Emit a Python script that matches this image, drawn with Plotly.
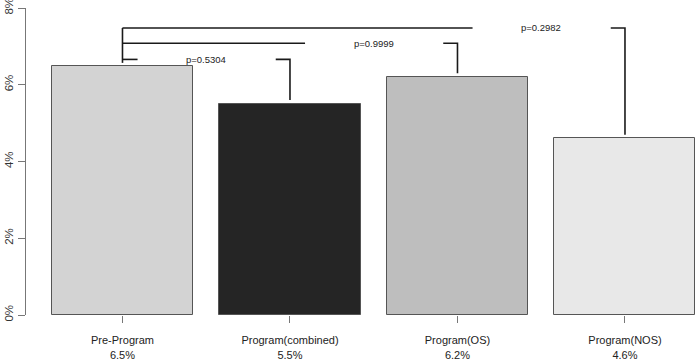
import plotly.graph_objects as go

categories = ["Pre-Program", "Program(combined)", "Program(OS)", "Program(NOS)"]
values = [6.5, 5.5, 6.2, 4.6]
bar_colors = ["#d3d3d3", "#252525", "#bebebe", "#e8e8e8"]
y_ticks = [0, 2, 4, 6, 8]
y_tick_labels = ["0%", "2%", "4%", "6%", "8%"]
p_labels = ["p=0.5304", "p=0.9999", "p=0.2982"]
bracket_heights = [6.66, 7.08, 7.48]
bracket_targets = [1, 2, 3]

FONT = "Liberation Sans, Arial, sans-serif"

fig = go.Figure()
fig.add_trace(go.Bar(
    x=list(range(len(categories))), y=values, width=0.842,
    marker=dict(color=bar_colors, line=dict(color="#555555", width=1)),
    showlegend=False, hoverinfo="skip",
))

line_style = dict(color="#1a1a1a", width=1.6)
# left common vertical
fig.add_trace(go.Scatter(x=[0, 0], y=[max(bracket_heights), values[0] + 0.07],
                         mode="lines", line=line_style, showlegend=False, hoverinfo="skip"))
for h, k, lab in zip(bracket_heights, bracket_targets, p_labels):
    fig.add_trace(go.Scatter(x=[0, (k - 1) + 0.09], y=[h, h], mode="lines",
                             line=line_style, showlegend=False, hoverinfo="skip"))
    fig.add_trace(go.Scatter(x=[k - 0.085, k, k], y=[h, h, values[k] + 0.1], mode="lines",
                             line=line_style, showlegend=False, hoverinfo="skip"))
    fig.add_annotation(x=k - 0.5, y=h, xref="x", yref="y", text=lab, showarrow=False,
                       font=dict(family=FONT, size=9.5, color="#222222"), yanchor="middle")

tick_text = [f"{c}<br>{v}%" for c, v in zip(categories, values)]

fig.update_layout(
    width=697, height=359,
    margin=dict(l=26, r=0, t=8, b=44, autoexpand=False),
    plot_bgcolor="white", paper_bgcolor="white",
    font=dict(family=FONT, size=11, color="#222222"),
    bargap=0,
)
fig.update_xaxes(range=[-0.576, 3.43], tickvals=list(range(len(categories))), ticktext=tick_text,
                 showline=False, showgrid=False, zeroline=False, ticks="outside", ticklen=7,
                 tickcolor="#777777", tickwidth=1, tickfont=dict(size=11, color="#222222"),
                 ticklabelstandoff=8, automargin=False, ticklabeloverflow="allow")
fig.update_yaxes(range=[0, 8], tickvals=y_ticks, ticktext=y_tick_labels, showline=True,
                 linecolor="#777777", linewidth=1.3, showgrid=False, zeroline=False,
                 ticks="outside", ticklen=7, tickcolor="#777777", tickwidth=1.3,
                 tickangle=-90, tickfont=dict(size=11.5, color="#333333"),
                 automargin=False, ticklabeloverflow="allow")

fig.write_html("out.html", config={"displayModeBar": False},
               post_script="document.body.style.margin='0';")
